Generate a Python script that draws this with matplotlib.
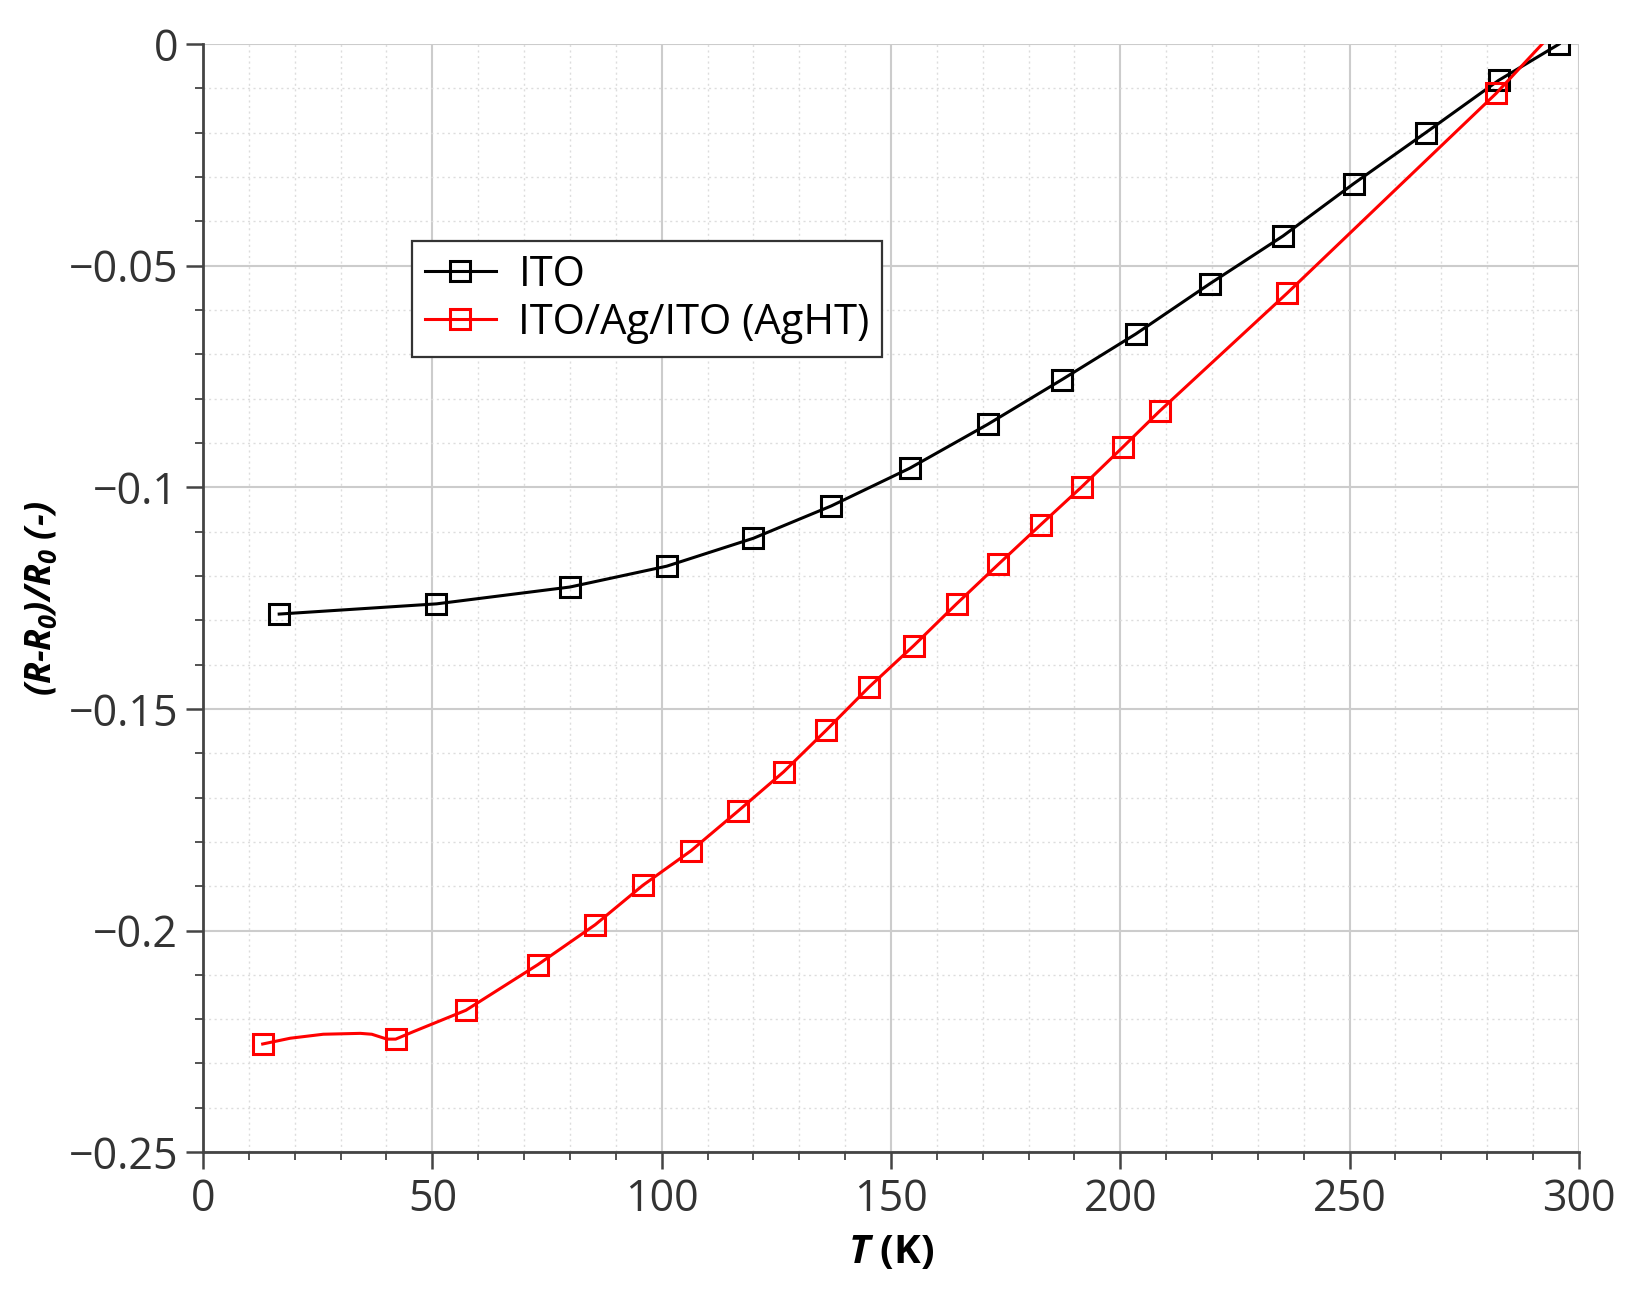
import matplotlib
matplotlib.use("Agg")
import matplotlib.pyplot as plt
from matplotlib.ticker import MultipleLocator, FixedLocator, FixedFormatter

# ---- data ----
ito_T = [16.6, 50.9, 80.0, 101.1, 120.0, 137.0, 154.1, 171.1, 187.3, 203.4,
         219.5, 235.5, 250.9, 266.6, 282.5, 295.7]
ito_R = [-0.1286, -0.1263, -0.1225, -0.1178, -0.1115, -0.1042, -0.0957, -0.0858,
         -0.0757, -0.0654, -0.0541, -0.0433, -0.0315, -0.0200, -0.0082, 0.0]

aght_T = [13.0, 19.0, 26.2, 34.3, 36.8, 40.1, 42.0, 45.9, 57.3, 73.0, 85.5, 95.9,
          106.4, 116.6, 126.6, 135.9, 145.2, 155.0, 164.3, 173.4, 182.7, 191.6,
          200.5, 208.6, 236.4, 282.0, 292.0]
aght_R = [-0.2256, -0.2243, -0.2234, -0.2232, -0.2234, -0.2245, -0.2245, -0.2228,
          -0.2180, -0.2077, -0.1987, -0.1898, -0.1820, -0.1731, -0.1642, -0.1548,
          -0.1451, -0.1357, -0.1263, -0.1174, -0.1084, -0.0999, -0.0910, -0.0828,
          -0.0562, -0.0111, 0.0]
aght_marker_idx = [0, 6] + list(range(8, 26))

xticks = [0, 50, 100, 150, 200, 250, 300]
yticks = [0, -0.05, -0.1, -0.15, -0.2, -0.25]
ytick_labels = ["0", "\u22120.05", "\u22120.1", "\u22120.15", "\u22120.2", "\u22120.25"]

# ---- style ----
plt.rcParams['font.family'] = ['Open Sans', 'DejaVu Sans']
plt.rcParams['mathtext.fontset'] = 'custom'
plt.rcParams['mathtext.it'] = 'Open Sans:italic:bold'
plt.rcParams['mathtext.rm'] = 'Open Sans:italic:bold'
plt.rcParams['mathtext.bf'] = 'Open Sans:bold'

fig = plt.figure(figsize=(16.31, 12.96), dpi=100)
ax = fig.add_axes([0.1245, 0.111, 0.8435, 0.855])

ax.plot(ito_T, ito_R, color='black', lw=2.2, marker='s', ms=15,
        mfc='none', mec='black', mew=2.2, label='ITO')
ax.plot(aght_T, aght_R, color='red', lw=2.2, marker='s', ms=15,
        mfc='none', mec='red', mew=2.2, markevery=aght_marker_idx,
        label='ITO/Ag/ITO (AgHT)')

ax.set_xlim(0, 300)
ax.set_ylim(-0.25, 0)
ax.xaxis.set_major_locator(FixedLocator(xticks))
ax.xaxis.set_minor_locator(MultipleLocator(10))
ax.yaxis.set_major_locator(FixedLocator(yticks))
ax.yaxis.set_major_formatter(FixedFormatter(ytick_labels))
ax.yaxis.set_minor_locator(MultipleLocator(0.01))

ax.grid(which='major', color='#cccccc', lw=1.5, ls='-')
ax.grid(which='minor', color='#dddddd', lw=1.0, ls=(0, (1.5, 2.5)))
ax.set_axisbelow(True)

for s in ['top', 'right']:
    ax.spines[s].set_visible(False)
for s in ['left', 'bottom']:
    ax.spines[s].set_color('#444444')
    ax.spines[s].set_linewidth(2.0)

ax.tick_params(which='major', direction='out', length=12, width=1.8,
               color='#444444', labelsize=31, labelcolor='#333333', pad=6)
ax.tick_params(which='minor', direction='out', length=6, width=1.3,
               color='#444444')

ax.set_xlabel(r"$T$ (K)", fontsize=29, fontweight='bold', labelpad=8)
ax.set_ylabel(r"($R$-$R_0$)/$R_0$ (-)", fontsize=26, fontweight='bold',
              fontstyle='italic', labelpad=6)

leg = ax.legend(loc='upper left', bbox_to_anchor=(0.152, 0.822), fontsize=30,
                frameon=True, fancybox=False, edgecolor='#333333',
                handlelength=1.7, borderpad=0.3, labelspacing=0.15,
                handletextpad=0.55, borderaxespad=0)
leg.get_frame().set_linewidth(1.6)
leg.get_frame().set_alpha(1)

fig.savefig('out.png', dpi=100)
